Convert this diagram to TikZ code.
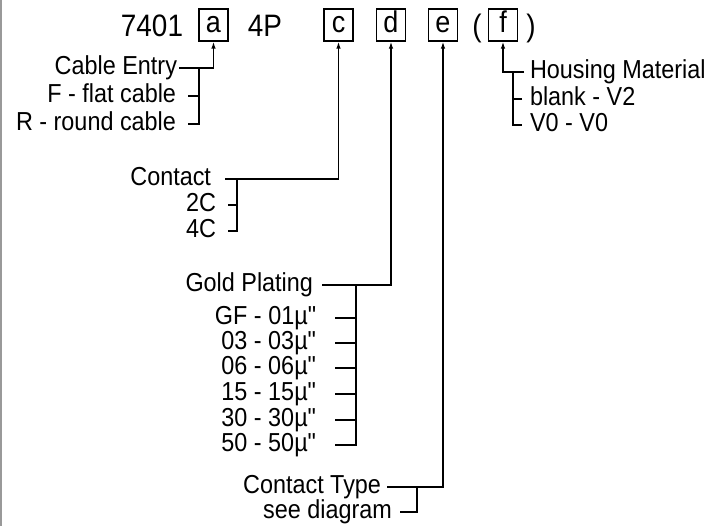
\documentclass[tikz,border=0pt]{standalone}
\usepackage{fontspec}
\setmainfont[FakeStretch=0.9]{Liberation Sans}
\usetikzlibrary{arrows.meta,positioning}

\begin{document}
\begin{tikzpicture}[x=1pt, y=-1pt,
  keybox/.style={draw, line width=1.3pt, minimum width=29pt, minimum height=32pt, inner sep=0pt, text height=16pt, text depth=0pt, font=\fontsize{30}{34}\selectfont},
  code/.style={inner sep=0pt, text height=23pt, text depth=0pt, font=\fontsize{31}{36}\selectfont},
  head/.style={anchor=east, inner sep=0pt, outer xsep=2pt, text height=13.5pt, text depth=0pt, font=\fontsize{26}{30}\selectfont},
  opt/.style={head, outer xsep=12pt},
  rhead/.style={head, anchor=west, outer xsep=6pt},
  link/.style={line width=1.3pt},
  arr/.style={link, -{Latex[length=7pt,width=4.5pt]}}
]
\useasboundingbox (0,0) rectangle (715,526);
\draw[gray!80, line width=1.5pt] (0.75,0) -- (0.75,526);

% part number
\node[code] (pre) at (152,25) {7401};
\node[keybox] (a) at (213.5,25) {a};
\node[code] (mid) at (265,25) {4P};
\node[keybox] (c) at (338.5,25) {c};
\node[keybox] (d) at (391,25) {d};
\node[keybox] (e) at (443,25) {e};
\node[code] (lp) at (477,25) {(};
\node[keybox] (f) at (503,25) {f};
\node[code] (rp) at (531,25) {)};

% cable entry
\node[head] (ce) at (179,68) {Cable Entry};
\node[opt] (fc) at (188,96) {F - flat cable};
\node[opt] (rc) at (188,124) {R - round cable};
\coordinate (ja) at (199,68);
\draw[arr] (ce.east) -| (a);
\draw[link] (ja) |- (rc.east);
\draw[link] (fc.east) -- (fc.east -| ja);

% contact
\node[head, outer xsep=14pt] (ct) at (225,179) {Contact};
\node[opt] (c2) at (228,205) {2C};
\node[opt] (c4) at (228,231) {4C};
\coordinate (jc) at (237,179);
\draw[arr] (ct.east) -| (c);
\draw[link] (jc) |- (c4.east);
\draw[link] (c2.east) -- (c2.east -| jc);

% gold plating
\node[head, outer xsep=9pt] (gp) at (322,285) {Gold Plating};
\node[opt, outer xsep=18pt] (g1) at (335,318) {GF - 01µ\textquotedbl};
\node[opt, outer xsep=18pt] (g3) at (335,343) {03 - 03µ\textquotedbl};
\node[opt, outer xsep=18pt] (g6) at (335,368) {06 - 06µ\textquotedbl};
\node[opt, outer xsep=18pt] (g15) at (335,394) {15 - 15µ\textquotedbl};
\node[opt, outer xsep=18pt] (g30) at (335,420) {30 - 30µ\textquotedbl};
\node[opt, outer xsep=18pt] (g50) at (335,445) {50 - 50µ\textquotedbl};
\coordinate (jd) at (356,285);
\draw[arr] (gp.east) -| (d);
\draw[link] (jd) |- (g50.east);
\foreach \g in {g1,g3,g6,g15,g30}
  \draw[link] (\g.east) -- (\g.east -| jd);

% contact type
\node[head, outer xsep=6pt] (tp) at (387,487) {Contact Type};
\node[opt, outer xsep=8pt] (sd) at (400,512) {see diagram};
\coordinate (je) at (417,487);
\draw[arr] (tp.east) -| (e);
\draw[link] (je) |- (sd.east);

% housing material
\node[rhead] (hm) at (524,72) {Housing Material};
\node[rhead, outer xsep=8pt] (bv) at (522,99) {blank - V2};
\node[rhead, outer xsep=8pt] (v0) at (522,125) {V0 - V0};
\coordinate (jf) at (513,72);
\draw[arr] (hm.west) -| (f);
\draw[link] (jf) |- (v0.west);
\draw[link] (bv.west) -- (bv.west -| jf);
\end{tikzpicture}
\end{document}
